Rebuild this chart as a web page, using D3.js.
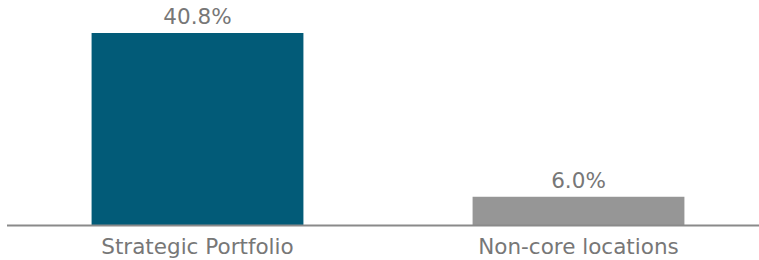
<!DOCTYPE html>
<html>
<head>
<meta charset="utf-8">
<script src="https://cdn.jsdelivr.net/npm/d3@7"></script>
<style>
  body { margin: 0; background: #fff; }
  text { font-family: "DejaVu Sans", Verdana, sans-serif; fill: #777; }
</style>
</head>
<body>
<div id="chart"></div>
<script>
// data
const categories = ["Strategic Portfolio", "Non-core locations"];
const shares = [40.8, 6.0];
const barColors = ["#025b78", "#969696"];

const width = 759;
const height = 260;
const baseY = 225;

const svg = d3.select("#chart")
  .append("svg")
    .attr("width", width)
    .attr("height", height);

// scales
const x = d3.scaleBand()
  .domain(categories)
  .range([7, 769])
  .paddingInner(0.444)
  .paddingOuter(0.222);

const y = d3.scaleLinear()
  .domain([0, d3.max(shares)])
  .range([baseY, 33]);

const rows = categories.map((c, i) => ({ cat: c, val: shares[i], color: barColors[i] }));

// bars
svg.selectAll(".bar")
  .data(rows)
  .join("rect")
    .attr("class", "bar")
    .attr("x", d => x(d.cat))
    .attr("y", d => y(d.val))
    .attr("width", x.bandwidth())
    .attr("height", d => baseY - y(d.val))
    .attr("fill", d => d.color);

// baseline
svg.append("line")
  .attr("x1", 7)
  .attr("x2", width)
  .attr("y1", baseY + 0.5)
  .attr("y2", baseY + 0.5)
  .attr("stroke", "#8a8a8a")
  .attr("stroke-width", 2);

// value labels
svg.selectAll(".val")
  .data(rows)
  .join("text")
    .attr("class", "val")
    .attr("x", d => x(d.cat) + x.bandwidth() / 2)
    .attr("y", d => y(d.val) - 9)
    .attr("text-anchor", "middle")
    .style("font-size", "21.5px")
    .text(d => d.val.toFixed(1) + "%");

// category labels
svg.selectAll(".cat")
  .data(rows)
  .join("text")
    .attr("class", "cat")
    .attr("x", d => x(d.cat) + x.bandwidth() / 2)
    .attr("y", 254)
    .attr("text-anchor", "middle")
    .style("font-size", "21.5px")
    .text(d => d.cat);
</script>
</body>
</html>
